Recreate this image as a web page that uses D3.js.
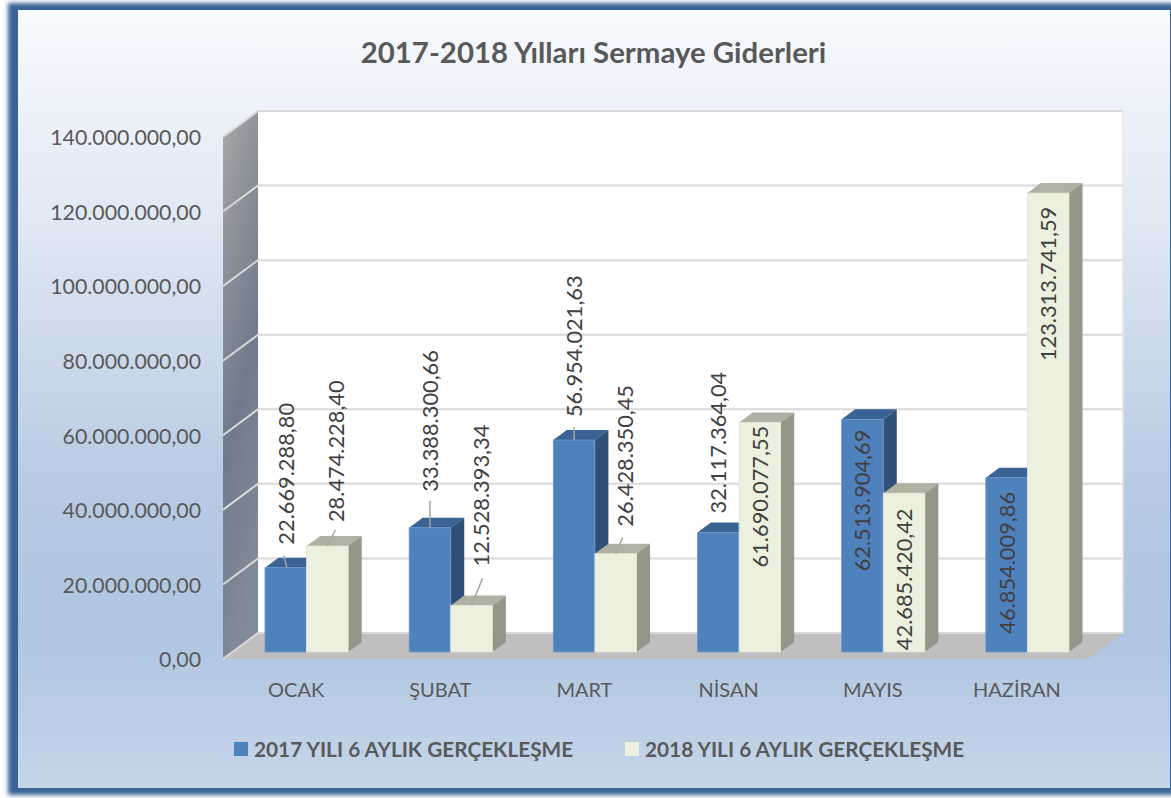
<!DOCTYPE html>
<html><head><meta charset="utf-8">
<script src="https://cdn.jsdelivr.net/npm/d3@7"></script>
<style>html,body{margin:0;padding:0;background:#fff;overflow:hidden}svg{display:block}text{font-family:Lato,"Open Sans",sans-serif}</style>
</head><body><svg id="c" width="1171" height="798"></svg>
<script>
const months = ["OCAK","ŞUBAT","MART","NİSAN","MAYIS","HAZİRAN"];
const series2017 = [22669288.80,33388300.66,56954021.63,32117364.04,62513904.69,46854009.86];
const series2018 = [28474228.40,12528393.34,26428350.45,61690077.55,42685420.42,123313741.59];
const seriesNames = ["2017 YILI 6 AYLIK GERÇEKLEŞME","2018 YILI 6 AYLIK GERÇEKLEŞME"];
const yTicks = [0,20e6,40e6,60e6,80e6,100e6,120e6,140e6];
const chartTitle = "2017-2018 Yılları Sermaye Giderleri";
// label gaps above the bar top (negative: inside the bar)
const gaps2017 = [23,36,23,19,-152,-156];
const gaps2018 = [24,39,27,-145,-157,-168];
const leaders2017 = [[-2,-12,1,0],[0,-27,0,0],[0,-13,0,0],null,null,null];
const leaders2018 = [[8,-16,0,0],[11,-27,0,0],[7,-16,0,0],null,null,null];

const svg = d3.select("#c");
const defs = svg.append("defs");
const bg = defs.append("linearGradient").attr("id","bg").attr("x1",0).attr("y1",0).attr("x2",0).attr("y2",1);
[[0,"#f8fbff"],[.3,"#dde6f2"],[.6,"#b9cbe3"],[.8,"#afc5e0"],[1,"#c6d6ea"]].forEach(s=>bg.append("stop").attr("offset",s[0]).attr("stop-color",s[1]));
const wall = defs.append("linearGradient").attr("id","wall").attr("x1",0).attr("y1",0).attr("x2",.25).attr("y2",1);
[[0,"#a8a9ab"],[.25,"#8f949b"],[.6,"#6f7b8c"],[1,"#808a98"]].forEach(s=>wall.append("stop").attr("offset",s[0]).attr("stop-color",s[1]));
const blur = defs.append("filter").attr("id","blur").attr("x","-5%").attr("y","-5%").attr("width","110%").attr("height","110%");
blur.append("feGaussianBlur").attr("stdDeviation",2.2);

// frame
svg.append("rect").attr("x",8).attr("y",3).attr("width",1190).attr("height",792).attr("fill","#3a6496").attr("filter","url(#blur)");
svg.append("rect").attr("x",18).attr("y",10).attr("width",1152).attr("height",778).attr("fill","url(#bg)");

// title
svg.append("text").attr("x",593.5).attr("y",63).attr("text-anchor","middle")
  .attr("font-size",29.4).attr("font-weight",700).attr("fill","#595959").text(chartTitle);

const dx = 35, dy = -26;              // chart depth
const x = d3.scaleBand().domain(months).range([223,1088]).paddingInner(0).paddingOuter(0);
const yAxisScale = d3.scaleLinear().domain([0,140e6]).range([659,137]);
const yBar = d3.scaleLinear().domain([0,140e6]).range([652,131]);
const barW = 41.6, bdx = 13.5, bdy = -10;
const groupOffset = x.bandwidth()/2 - barW + 11.5;
const poly = pts => pts.map(p=>p.join(",")).join(" ");

// walls
const xL=x.range()[0], xR=x.range()[1], y0=yAxisScale(0), yT=yAxisScale(140e6);
svg.append("rect").attr("x",xL+dx).attr("y",yT+dy).attr("width",xR-xL).attr("height",y0-yT).attr("fill","#fff");
svg.append("polygon").attr("points",poly([[xL,y0],[xL+dx,y0+dy],[xL+dx,yT+dy],[xL,yT]])).attr("fill","url(#wall)");
svg.append("polygon").attr("points",poly([[xL,y0],[xR,y0],[xR+dx,y0+dy],[xL+dx,y0+dy]])).attr("fill","#bfbfbf");
svg.append("g").selectAll("polyline").data(yTicks).join("polyline")
  .attr("points",d=>poly([[xL,yAxisScale(d)],[xL+dx,yAxisScale(d)+dy],[xR+dx,yAxisScale(d)+dy]]))
  .attr("fill","none").attr("stroke","#d9d9d9").attr("stroke-width",2);
svg.append("line").attr("x1",xR+dx).attr("x2",xR+dx).attr("y1",yT+dy).attr("y2",y0+dy).attr("stroke","#e6e6e6").attr("stroke-width",1.5);

// axes
const fmt = d3.formatLocale({decimal:",",thousands:".",grouping:[3],currency:["","₺"]}).format(",.2f");
const ay = svg.append("g").attr("transform",`translate(${xL-22},1)`)
  .call(d3.axisLeft(yAxisScale).tickValues(yTicks).tickSize(0).tickPadding(0).tickFormat(fmt));
ay.select(".domain").remove();
ay.selectAll("text").attr("font-size",21.3).attr("fill","#595959").style("font-family","Lato");
const ax = svg.append("g").attr("transform",`translate(${1},683)`)
  .call(d3.axisBottom(x).tickSize(0).tickPadding(0));
ax.select(".domain").remove();
ax.selectAll("text").attr("font-size",20).attr("fill","#595959").style("font-family","Lato");

// bars
function bar(g,bx,by,col){
  const b = yBar(0);
  g.append("polygon").attr("points",poly([[bx,by],[bx+bdx,by+bdy],[bx+barW+bdx,by+bdy],[bx+barW,by]])).attr("fill",col.top);
  g.append("polygon").attr("points",poly([[bx+barW,by],[bx+barW+bdx,by+bdy],[bx+barW+bdx,b+bdy],[bx+barW,b]])).attr("fill",col.side);
  g.append("rect").attr("x",bx).attr("y",by).attr("width",barW).attr("height",b-by).attr("fill",col.front).attr("stroke",col.edge).attr("stroke-width",.8);
}
const c17={front:"#4f81bd",top:"#3b6294",side:"#2f5078",edge:"#6d97cb"}, c18={front:"#ebf1de",top:"#afb2a2",side:"#939689",edge:"#dfe5d3"};
const barsG = svg.append("g"), labelsG = svg.append("g");
months.forEach((m,i)=>{
  const x0 = x(m)+groupOffset;
  [[series2017,c17,gaps2017,leaders2017,0],[series2018,c18,gaps2018,leaders2018,1]].forEach(([s,c,g,l,k])=>{
    const bx = x0+k*barW, by = yBar(s[i]), cx = bx+barW/2;
    bar(barsG,bx,by,c);
    if(l[i]) labelsG.append("line").attr("x1",cx+l[i][0]).attr("y1",by+l[i][1]).attr("x2",cx+l[i][2]).attr("y2",by+l[i][3])
       .attr("stroke","#a6a6a6").attr("stroke-width",1.5);
    const tx = cx+(k? 9:0)+(k&&g[i]<0?-9:0), ty = by-g[i];
    labelsG.append("text").attr("transform",`translate(${tx+8},${ty}) rotate(-90)`)
      .attr("font-size",21.8).attr("fill","#404040").text(fmt(s[i]));
  });
});

// legend
const lg = svg.append("g");
[[234,254,"#4f81bd"],[625,645,"#ebf1de"]].forEach((d,i)=>{
  lg.append("rect").attr("x",d[0]).attr("y",742).attr("width",14).attr("height",14).attr("fill",d[2]);
  lg.append("text").attr("x",d[1]).attr("y",757).attr("font-size",20.8).attr("font-weight",700).attr("fill","#595959").text(seriesNames[i]);
});
</script></body></html>
